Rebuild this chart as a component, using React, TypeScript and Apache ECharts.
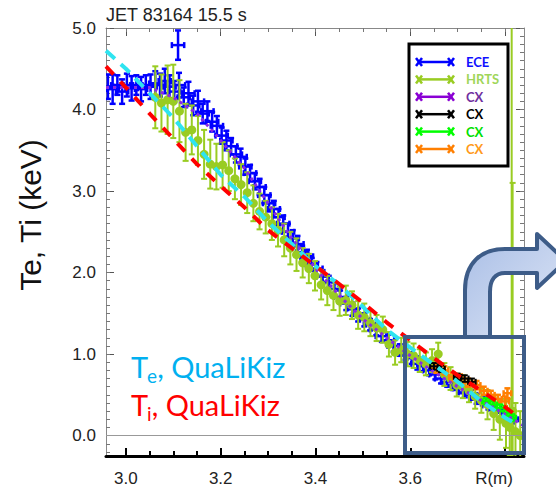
import React, { useEffect, useRef } from "react";
import * as echarts from "echarts";

// ---- axis ranges and ticks ----
const X_MIN = 2.958;
const X_MAX = 3.84;
const Y_MIN = -0.25;
const Y_MAX = 5.0;
const xLabelValues = [3.0, 3.2, 3.4, 3.6, 3.8];
const xMinorTicks = [3.0, 3.05, 3.1, 3.15, 3.2, 3.25, 3.3, 3.35, 3.4, 3.45, 3.5, 3.55, 3.6, 3.65, 3.7, 3.75, 3.8];
const yLabelValues = [0, 1, 2, 3, 4, 5];
const yMinorTicks = Array.from({ length: 53 }, (_, i) => +(-0.2 + i * 0.1).toFixed(1));

const titleText = "JET 83164 15.5 s";
const yAxisTitle = "Te, Ti (keV)";
const xAxisTitle = "R(m)";

// ---- measured data: [R (m), T (keV), error (keV)] ----
const ECE_XERR = 0.013;
const ecePoints: number[][] = [
  [2.962, 4.28, 0.15], [2.972, 4.25, 0.18], [2.982, 4.3, 0.12], [2.992, 4.22, 0.15], [3.002, 4.3, 0.14],
  [3.012, 4.26, 0.15], [3.022, 4.3, 0.12], [3.032, 4.25, 0.15], [3.042, 4.3, 0.12], [3.052, 4.28, 0.15],
  [3.062, 4.32, 0.15], [3.072, 4.3, 0.14], [3.082, 4.35, 0.15], [3.092, 4.28, 0.14], [3.102, 4.22, 0.13],
  [3.11, 4.79, 0.18],
  [3.112, 4.3, 0.15], [3.122, 4.15, 0.12], [3.132, 4.2, 0.14], [3.142, 4.05, 0.12], [3.152, 4.1, 0.13],
  [3.162, 3.95, 0.12], [3.172, 3.98, 0.12], [3.182, 3.85, 0.12], [3.192, 3.8, 0.12], [3.202, 3.68, 0.1],
  [3.212, 3.62, 0.12], [3.222, 3.55, 0.1], [3.232, 3.45, 0.1], [3.242, 3.42, 0.1], [3.252, 3.3, 0.1],
  [3.262, 3.22, 0.1], [3.272, 3.12, 0.1], [3.282, 3.05, 0.1], [3.292, 2.95, 0.1], [3.302, 2.85, 0.1],
  [3.312, 2.78, 0.1], [3.322, 2.68, 0.1], [3.332, 2.6, 0.1], [3.342, 2.5, 0.1], [3.352, 2.42, 0.1],
  [3.362, 2.35, 0.1], [3.372, 2.25, 0.08], [3.382, 2.2, 0.08], [3.392, 2.1, 0.08], [3.402, 2.05, 0.08],
  [3.415, 1.95, 0.08], [3.428, 1.88, 0.08], [3.44, 1.8, 0.08], [3.452, 1.7, 0.08], [3.465, 1.62, 0.08],
  [3.478, 1.55, 0.08], [3.49, 1.48, 0.08], [3.503, 1.42, 0.08], [3.515, 1.36, 0.07], [3.528, 1.3, 0.07],
  [3.54, 1.22, 0.07], [3.553, 1.17, 0.07], [3.565, 1.1, 0.07], [3.578, 1.05, 0.07], [3.59, 1.0, 0.07],
  [3.603, 0.95, 0.07], [3.615, 0.88, 0.07], [3.628, 0.85, 0.06], [3.64, 0.8, 0.06], [3.653, 0.75, 0.06],
  [3.665, 0.7, 0.06], [3.678, 0.66, 0.06], [3.69, 0.62, 0.06], [3.703, 0.58, 0.06], [3.715, 0.53, 0.06],
  [3.728, 0.5, 0.06], [3.74, 0.45, 0.06], [3.753, 0.42, 0.05], [3.765, 0.37, 0.05], [3.778, 0.33, 0.05],
  [3.79, 0.28, 0.05], [3.803, 0.24, 0.05], [3.815, 0.2, 0.05],
];

const hrtsPoints: number[][] = [
  [3.062, 4.15, 0.38], [3.075, 4.08, 0.35], [3.088, 4.12, 0.42], [3.1, 4.1, 0.45], [3.113, 3.98, 0.38],
  [3.126, 3.72, 0.35], [3.139, 3.75, 0.3], [3.152, 3.62, 0.3], [3.165, 3.45, 0.3], [3.178, 3.33, 0.3],
  [3.191, 3.3, 0.28], [3.204, 3.32, 0.28], [3.217, 3.25, 0.25], [3.23, 3.15, 0.25], [3.243, 3.08, 0.25],
  [3.256, 2.98, 0.25], [3.269, 2.85, 0.22], [3.282, 2.75, 0.22], [3.295, 2.68, 0.2], [3.308, 2.6, 0.2],
  [3.321, 2.52, 0.2], [3.334, 2.4, 0.2], [3.347, 2.3, 0.2], [3.36, 2.22, 0.2], [3.373, 2.12, 0.18],
  [3.386, 2.05, 0.18], [3.399, 1.96, 0.18], [3.412, 1.85, 0.18], [3.425, 1.78, 0.18], [3.438, 1.72, 0.18],
  [3.451, 1.65, 0.18], [3.464, 1.66, 0.18], [3.477, 1.6, 0.17], [3.49, 1.48, 0.17], [3.503, 1.45, 0.17],
  [3.516, 1.38, 0.16], [3.529, 1.32, 0.16], [3.542, 1.3, 0.16], [3.555, 1.12, 0.15], [3.568, 1.02, 0.15],
  [3.581, 1.05, 0.15], [3.594, 1.0, 0.15], [3.607, 0.98, 0.15], [3.62, 0.92, 0.14], [3.633, 0.88, 0.14],
  [3.646, 0.92, 0.14], [3.659, 1.0, 0.14], [3.672, 0.75, 0.14], [3.685, 0.7, 0.14], [3.698, 0.62, 0.14],
  [3.711, 0.6, 0.14], [3.724, 0.55, 0.14], [3.737, 0.48, 0.15], [3.75, 0.43, 0.15], [3.763, 0.38, 0.18],
  [3.776, 0.27, 0.2], [3.789, 0.2, 0.25], [3.802, 0.15, 0.3], [3.81, 0.1, 0.35], [3.822, 0.05, 0.35],
  [3.832, 0.0, 0.3], [3.814, 0.3, 5.0], [3.816, 0.3, 2.8],
];

const CX_XERR = 0.008;
const cxOrangePoints: number[][] = [
  [3.655, 0.82, 0.05], [3.672, 0.8, 0.05], [3.69, 0.72, 0.05], [3.705, 0.7, 0.05], [3.722, 0.65, 0.05],
  [3.74, 0.62, 0.05], [3.755, 0.55, 0.05], [3.77, 0.5, 0.05], [3.785, 0.45, 0.05], [3.8, 0.42, 0.06],
  [3.805, 0.52, 0.06],
];
const cxBlackPoints: number[][] = [
  [3.65, 0.85, 0.04], [3.665, 0.82, 0.04], [3.7, 0.72, 0.04], [3.715, 0.7, 0.04], [3.73, 0.66, 0.04],
];
const cxGreenPoints: number[][] = [
  [3.76, 0.42, 0.04], [3.775, 0.38, 0.04], [3.79, 0.34, 0.04], [3.805, 0.28, 0.04], [3.815, 0.22, 0.04],
];
const cxPurpleLine: number[][] = [
  [2.958, 4.27], [3.05, 4.27], [3.1, 4.15], [3.15, 3.95], [3.2, 3.62], [3.25, 3.28], [3.3, 2.85],
  [3.35, 2.42], [3.4, 2.05], [3.45, 1.72], [3.5, 1.43], [3.55, 1.2], [3.6, 0.98], [3.65, 0.78],
  [3.7, 0.6], [3.75, 0.43], [3.8, 0.26], [3.84, 0.12],
];

// ---- QuaLiKiz simulations ----
const teQuaLiKiz: number[][] = [
  [2.958, 4.72], [3.0, 4.5], [3.05, 4.2], [3.1, 3.9], [3.15, 3.55], [3.2, 3.2], [3.25, 2.93],
  [3.3, 2.62], [3.35, 2.35], [3.4, 2.08], [3.45, 1.85], [3.5, 1.58], [3.55, 1.3], [3.6, 1.08],
  [3.65, 0.87], [3.7, 0.66], [3.75, 0.42], [3.8, 0.22], [3.83, 0.12],
];
const tiQuaLiKiz: number[][] = [
  [2.958, 4.53], [3.0, 4.27], [3.05, 3.95], [3.1, 3.64], [3.15, 3.33], [3.2, 3.06], [3.25, 2.8],
  [3.3, 2.52], [3.35, 2.3], [3.4, 2.08], [3.45, 1.86], [3.5, 1.63], [3.55, 1.39], [3.6, 1.17],
  [3.65, 0.95], [3.7, 0.74], [3.75, 0.55], [3.8, 0.35], [3.83, 0.22],
];

// ---- legend ----
const legendNames = ["ECE", "HRTS", "CX", "CX", "CX", "CX"];
const legendLineColors = ["#0000ff", "#99cc22", "#8a00d4", "#000000", "#00ff00", "#ff7f00"];
const legendTextColors = ["#1010ff", "#9fd65a", "#7030a0", "#000000", "#00e000", "#ff9a1a"];

const C_ECE = "#0000ff";
const C_HRTS = "#99cc22";
const C_PURPLE = "#8a2be2";
const C_CYAN = "#2ee4f0";
const C_RED = "#ff0000";
const BOX_BLUE = "#3d5c88";

const ARROW_D =
  "M465,337 L465,290 C465,263 481,249 505,249 L537,249 L537,234 L566,261 L537,288 L537,273 L505,273 C495,273 490,280 490,292 L490,337 Z";

function crossRenderer(xerr: number, cap: number, lw: number) {
  return (params: any, api: any) => {
    const r = api.value(0);
    const t = api.value(1);
    const e = api.value(2);
    const c = api.coord([r, t]);
    const yTop = api.coord([r, t + e])[1];
    const yBot = api.coord([r, t - e])[1];
    const xL = api.coord([r - xerr, t])[0];
    const xR = api.coord([r + xerr, t])[0];
    const style = { stroke: api.visual("color"), lineWidth: lw, fill: null };
    return {
      type: "group",
      children: [
        { type: "line", shape: { x1: c[0], y1: yTop, x2: c[0], y2: yBot }, style },
        { type: "line", shape: { x1: c[0] - cap, y1: yTop, x2: c[0] + cap, y2: yTop }, style },
        { type: "line", shape: { x1: c[0] - cap, y1: yBot, x2: c[0] + cap, y2: yBot }, style },
        { type: "line", shape: { x1: xL, y1: c[1], x2: xR, y2: c[1] }, style },
        { type: "line", shape: { x1: xL, y1: c[1] - cap, x2: xL, y2: c[1] + cap }, style },
        { type: "line", shape: { x1: xR, y1: c[1] - cap, x2: xR, y2: c[1] + cap }, style },
      ],
    };
  };
}

function hrtsRenderer(params: any, api: any) {
  const r = api.value(0);
  const t = api.value(1);
  const e = api.value(2);
  const c = api.coord([r, t]);
  const yTop = api.coord([r, t + e])[1];
  const yBot = api.coord([r, t - e])[1];
  const color = api.visual("color");
  const style = { stroke: color, lineWidth: 2, fill: null };
  const cap = 3;
  return {
    type: "group",
    children: [
      { type: "line", shape: { x1: c[0], y1: yTop, x2: c[0], y2: yBot }, style },
      { type: "line", shape: { x1: c[0] - cap, y1: yTop, x2: c[0] + cap, y2: yTop }, style },
      { type: "line", shape: { x1: c[0] - cap, y1: yBot, x2: c[0] + cap, y2: yBot }, style },
      { type: "circle", shape: { cx: c[0], cy: c[1], r: 4.5 }, style: { fill: color } },
    ],
  };
}

function measure(text: string, font: string) {
  const ctx = document.createElement("canvas").getContext("2d");
  if (!ctx) return text.length * 10;
  ctx.font = font;
  return ctx.measureText(text).width;
}

export default function App() {
  const ref = useRef<HTMLDivElement>(null);
  useEffect(() => {
    if (!ref.current) return;
    echarts.graphic.registerShape("bendArrow", echarts.graphic.extendPath(ARROW_D, {}) as any);
    const chart = echarts.init(ref.current, undefined, { renderer: "svg" });

    const tickFont = "Liberation Sans, Arial, sans-serif";
    const annFamily = "Lato, sans-serif";
    const annSize = 29;
    const subSize = 19;
    const mainFont = `${annSize}px Lato`;
    const subFont = `${subSize}px Lato`;
    const wT = measure("T", mainFont);
    const wSubE = measure("e", subFont);
    const wSubI = measure("i", subFont);

    const annot = (y: number, sub: string, wSub: number, color: string) => [
      { type: "text", x: 131, y, z: 50, style: { text: "T", fill: color, font: mainFont, verticalAlign: "middle", align: "left" } },
      { type: "text", x: 131 + wT - 1, y: y + 9, z: 50, style: { text: sub, fill: color, font: subFont, verticalAlign: "middle", align: "left" } },
      { type: "text", x: 131 + wT - 1 + wSub, y, z: 50, style: { text: ", QuaLiKiz", fill: color, font: mainFont, verticalAlign: "middle", align: "left" } },
    ];

    const legendItems: any[] = [
      { type: "rect", z: 60, shape: { x: 409, y: 44, width: 99, height: 122 }, style: { fill: "#fff", stroke: "#000", lineWidth: 3 } },
    ];
    legendNames.forEach((name, i) => {
      const y = 62 + i * 17.4;
      const col = legendLineColors[i];
      const st = { stroke: col, lineWidth: 2.5, fill: null };
      legendItems.push({ type: "line", z: 61, shape: { x1: 419, y1: y, x2: 451, y2: y }, style: st });
      [419, 451].forEach((cx) => {
        legendItems.push({ type: "line", z: 61, shape: { x1: cx - 3, y1: y - 4, x2: cx + 3, y2: y + 4 }, style: st });
        legendItems.push({ type: "line", z: 61, shape: { x1: cx + 3, y1: y - 4, x2: cx - 3, y2: y + 4 }, style: st });
      });
      legendItems.push({
        type: "text", z: 61, x: 466, y,
        style: { text: name, fill: legendTextColors[i], font: `bold 13px ${annFamily}`, verticalAlign: "middle", align: "left" },
      });
    });

    const minorTickAxis = (pos: string, vals: number[], len: number, color: string, width = 1) => ({
      type: "value", position: pos, min: pos === "top" || pos === "bottom" ? X_MIN : Y_MIN,
      max: pos === "top" || pos === "bottom" ? X_MAX : Y_MAX,
      axisLine: { show: false, onZero: false }, axisLabel: { show: false }, splitLine: { show: false },
      axisTick: { show: true, inside: true, length: len, customValues: vals, lineStyle: { color, width } },
    });

    const option: any = {
      animation: false,
      grid: { left: 106, top: 28, right: 32, bottom: 32, containLabel: false, outerBoundsMode: "none" },
      xAxis: [
        {
          type: "value", position: "bottom", min: X_MIN, max: X_MAX,
          axisLine: { show: true, onZero: false, lineStyle: { color: "#000", width: 3 } },
          axisTick: { show: true, inside: true, length: 8, customValues: xLabelValues, lineStyle: { color: "#000", width: 2 } },
          axisLabel: {
            show: true, customValues: xLabelValues, margin: 14, fontSize: 17, fontFamily: tickFont, color: "#222",
            formatter: (v: number) => (Math.abs(v - 3.8) < 1e-6 ? `{r|${xAxisTitle}}` : v.toFixed(1)),
            rich: { r: { fontSize: 17, fontFamily: tickFont, color: "#222", padding: [0, 22, 0, 0] } },
          },
          splitLine: { show: false },
        },
        minorTickAxis("bottom", xMinorTicks, 5, "#000", 2),
        {
          type: "value", position: "top", min: X_MIN, max: X_MAX,
          axisLine: { show: true, onZero: false, lineStyle: { color: "#888", width: 1 } },
          axisTick: { show: true, inside: true, length: 8, customValues: xLabelValues, lineStyle: { color: "#555", width: 1 } },
          axisLabel: { show: false }, splitLine: { show: false },
        },
        minorTickAxis("top", xMinorTicks, 4, "#777"),
      ],
      yAxis: [
        {
          type: "value", position: "left", min: Y_MIN, max: Y_MAX,
          axisLine: { show: true, onZero: false, lineStyle: { color: "#888", width: 1 } },
          axisTick: { show: true, inside: true, length: 8, customValues: yLabelValues, lineStyle: { color: "#555", width: 1 } },
          axisLabel: {
            show: true, customValues: yLabelValues, margin: 10, fontSize: 17, fontFamily: tickFont, color: "#222",
            formatter: (v: number) => v.toFixed(1),
          },
          splitLine: { show: false },
        },
        minorTickAxis("left", yMinorTicks, 4, "#777"),
        {
          type: "value", position: "right", min: Y_MIN, max: Y_MAX,
          axisLine: { show: true, onZero: false, lineStyle: { color: "#888", width: 1 } },
          axisTick: { show: true, inside: true, length: 8, customValues: yLabelValues, lineStyle: { color: "#555", width: 1 } },
          axisLabel: { show: false }, splitLine: { show: false },
        },
        minorTickAxis("right", yMinorTicks, 4, "#777"),
      ],
      series: [
        {
          name: "ECE", type: "custom", renderItem: crossRenderer(ECE_XERR, 3, 2.5), data: ecePoints,
          itemStyle: { color: C_ECE }, clip: true, z: 2,
          markLine: {
            silent: true, symbol: ["none", "none"], label: { show: false },
            lineStyle: { color: "#999", type: "solid", width: 1 }, data: [{ yAxis: 0 }],
          },
        },
        { name: "HRTS", type: "custom", renderItem: hrtsRenderer, data: hrtsPoints, itemStyle: { color: C_HRTS }, clip: true, z: 3 },
        { name: "CX orange", type: "custom", renderItem: crossRenderer(CX_XERR, 3, 2.5), data: cxOrangePoints, itemStyle: { color: "#ff7f00" }, clip: true, z: 4 },
        { name: "CX black", type: "custom", renderItem: crossRenderer(CX_XERR, 3, 2), data: cxBlackPoints, itemStyle: { color: "#000" }, clip: true, z: 4 },
        { name: "CX green", type: "custom", renderItem: crossRenderer(CX_XERR, 3, 2.5), data: cxGreenPoints, itemStyle: { color: "#00ff00" }, clip: true, z: 4 },
        {
          name: "CX purple", type: "line", data: cxPurpleLine, showSymbol: false, z: 5,
          lineStyle: { color: C_PURPLE, width: 3, type: [3, 4] },
        },
        {
          name: "Te QuaLiKiz", type: "line", data: teQuaLiKiz, showSymbol: false, z: 6,
          lineStyle: { color: C_CYAN, width: 4, type: [12, 8] },
        },
        {
          name: "Ti QuaLiKiz", type: "line", data: tiQuaLiKiz, showSymbol: false, z: 6,
          lineStyle: { color: C_RED, width: 4, type: [11, 10] },
        },
      ],
      graphic: [
        { type: "text", x: 106, y: 15, z: 50, style: { text: titleText, fill: "#222", font: `18px ${tickFont}`, verticalAlign: "middle", align: "left" } },
        { type: "text", x: 30, y: 215, rotation: Math.PI / 2, z: 50, style: { text: yAxisTitle, fill: "#111", font: `30px ${tickFont}`, verticalAlign: "middle", align: "center" } },
        ...annot(366, "e", wSubE, "#00b0f0"),
        ...annot(404, "i", wSubI, "#ff0000"),
        ...legendItems,
        {
          type: "bendArrow", x: 0, y: 0, z: 70,
          style: {
            fill: new echarts.graphic.LinearGradient(0, 0, 1, 1, [
              { offset: 0, color: "#a9bee6" },
              { offset: 1, color: "#dfe7f6" },
            ]),
            stroke: BOX_BLUE, lineWidth: 4, lineJoin: "round",
          },
        },
        { type: "rect", z: 71, shape: { x: 405, y: 337, width: 119, height: 116 }, style: { fill: null, stroke: BOX_BLUE, lineWidth: 4 } },
      ],
    };
    chart.setOption(option);
    return () => chart.dispose();
  }, []);
  return <div ref={ref} style={{ position: "fixed", left: 0, top: 0, width: 556, height: 488, background: "#fff" }} />;
}
